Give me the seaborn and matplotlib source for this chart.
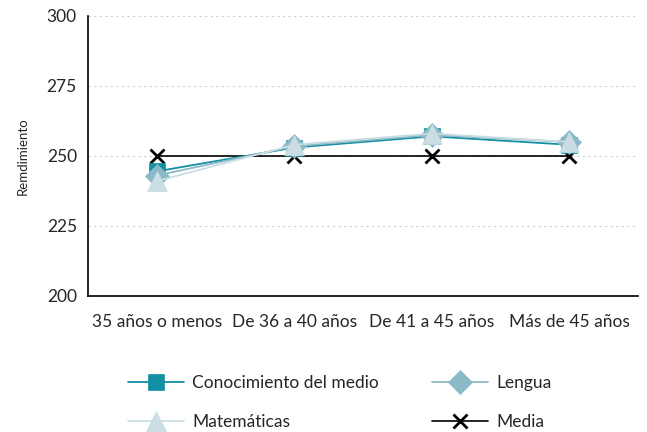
import matplotlib
matplotlib.use("Agg")
import matplotlib.pyplot as plt
import seaborn as sns
import pandas as pd

categorias = ["35 años o menos", "De 36 a 40 años", "De 41 a 45 años", "Más de 45 años"]
conocimiento = [244.5, 253, 257, 254]
lengua = [243, 253.5, 257.5, 255]
matematicas = [241, 254, 258, 255]
media = [250, 250, 250, 250]

series = {
    "Conocimiento del medio": conocimiento,
    "Lengua": lengua,
    "Matemáticas": matematicas,
    "Media": media,
}
rows = []
for name, vals in series.items():
    for i, (c, v) in enumerate(zip(categorias, vals)):
        rows.append({"cat": c, "x": i, "serie": name, "valor": v})
df = pd.DataFrame(rows)

sns.set_style("white")
plt.rcParams['font.family'] = ['Lato', 'DejaVu Sans']

fig = plt.figure(figsize=(6.47, 4.32), dpi=100)
ax = fig.add_axes([0.136, 0.315, 0.850, 0.648])

colors = {"Conocimiento del medio": "#138fa3", "Lengua": "#8cb9c7",
          "Matemáticas": "#c9dde3", "Media": "#000000"}
markers = {"Conocimiento del medio": "s", "Lengua": "D", "Matemáticas": "^", "Media": "x"}
sizes = {"Conocimiento del medio": 11, "Lengua": 12, "Matemáticas": 14, "Media": 10}
order = ["Media", "Conocimiento del medio", "Lengua", "Matemáticas"]
handles = {}
for name in order:
    sub = df[df.serie == name]
    sns.lineplot(data=sub, x="x", y="valor", ax=ax, color=colors[name],
                 linewidth=1.3 if name != "Media" else 1.2,
                 marker=markers[name], markersize=sizes[name],
                 markeredgecolor=colors[name],
                 markeredgewidth=2 if name == "Media" else 0.5,
                 label=name, legend=False)
    handles[name] = ax.lines[-1]

ax.set_xlim(-0.5, 3.5)
ax.set_ylim(200, 300)
ax.set_yticks([200, 225, 250, 275, 300])
ax.set_xticks(range(len(categorias)))
ax.set_xticklabels(categorias)
ax.set_xlabel("")
ax.set_ylabel("Remdimiento", fontsize=9.5, labelpad=13)
ax.tick_params(axis="both", labelsize=12.5, length=0, pad=8)
ax.tick_params(axis="x", pad=13)
for y in [225, 250, 275, 300]:
    ax.axhline(y, color="#d0d0d0", linestyle=(0, (2, 3)), linewidth=0.8, zorder=0)
for s in ["top", "right"]:
    ax.spines[s].set_visible(False)
for s in ["left", "bottom"]:
    ax.spines[s].set_color("black")
    ax.spines[s].set_linewidth(1.2)

leg_order = ["Conocimiento del medio", "Matemáticas", "Lengua", "Media"]
fig.legend([handles[n] for n in leg_order], leg_order, loc="upper left",
           bbox_to_anchor=(0.174, 0.168), ncol=2, frameon=False, fontsize=12.5,
           handlelength=3.2, columnspacing=3.05, labelspacing=1.35, handletextpad=0.5)

fig.savefig("out.png", dpi=100)
